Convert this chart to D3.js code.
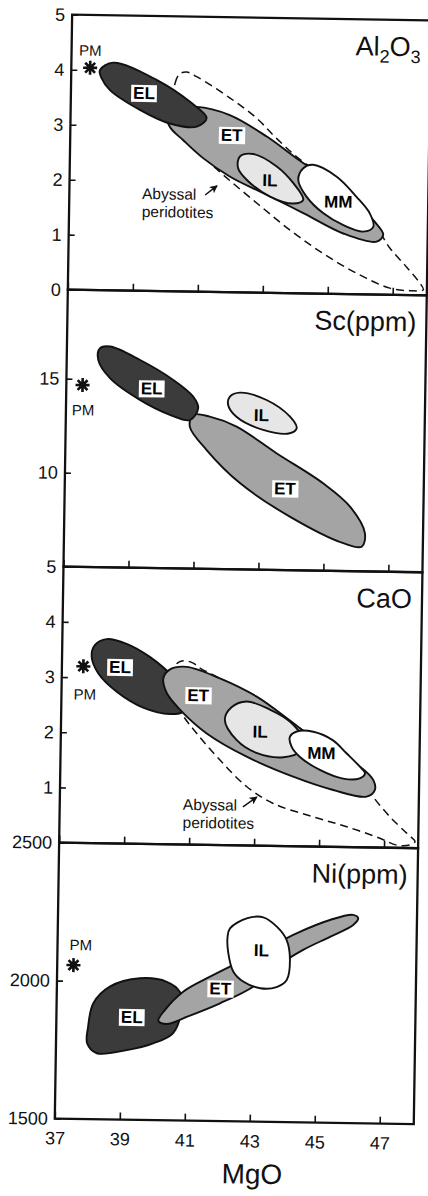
<!DOCTYPE html>
<html lang="en">
<head>
<meta charset="utf-8">
<title>MgO variation diagrams</title>
<script src="https://d3js.org/d3.v7.min.js"></script>
<style>
  body { margin: 0; background: #fff; }
  svg { display: block; font-family: "Liberation Sans", Arial, sans-serif; }
  .tick text { font-size: 18px; fill: #111; }
  .tick line { stroke: #111; stroke-width: 1.6px; }
  .tag { font-size: 17px; font-weight: bold; }
</style>
</head>
<body>
<div id="chart"></div>
<script>
// MgO axis, shared by the four panels
const mgoDomain = [37, 48.05];
const mgoTicks = [37, 39, 41, 43, 45, 47];

// Al2O3 panel (wt%)
const alTicks = [0, 1, 2, 3, 4, 5];
const alPM = [37.58, 4.04];
const alEL = [[37.88,4.00],[38.29,4.14],[39.63,3.84],[40.67,3.45],[41.19,3.16],[40.89,3.00],[40.06,3.05],[39.13,3.29],[38.20,3.64],[37.94,3.85]];
const alET = [[39.96,3.27],[40.88,3.36],[41.90,3.22],[43.05,2.84],[44.18,2.37],[45.42,1.95],[46.37,1.35],[46.68,1.09],[46.48,0.96],[45.45,1.10],[44.21,1.46],[42.97,1.81],[41.94,2.10],[41.10,2.43],[40.48,2.75],[40.06,2.99]];
const alIL = [[42.23,2.47],[42.64,2.52],[43.37,2.30],[43.89,2.00],[44.20,1.70],[43.89,1.63],[43.18,1.75],[42.45,2.05],[42.18,2.26]];
const alMM = [[44.18,2.27],[44.49,2.34],[45.22,2.13],[45.84,1.77],[46.26,1.47],[46.37,1.23],[46.06,1.14],[45.45,1.25],[44.83,1.46],[44.30,1.76],[44.04,2.06]];
const alAbyssal = [[40.16,3.36],[40.20,3.78],[40.33,3.95],[40.55,3.99],[40.86,3.91],[41.90,3.53],[42.73,3.17],[43.35,2.81],[44.18,2.39],[45.42,1.95],[46.47,1.23],[46.89,0.85],[47.41,0.51],[47.83,0.22],[47.94,0.10],[47.53,0.08],[46.91,0.12],[45.88,0.38],[44.84,0.73],[43.80,1.15],[42.77,1.63],[41.73,2.13],[41.16,2.43],[40.68,2.76],[40.27,3.06]];
const alLabels = [["EL",39.25,3.60],["ET",41.97,2.86],["IL",43.17,2.05],["MM",45.28,1.68]];
const alNote = [39.24, 1.67, 41.18, 1.76, 41.54, 1.93];

// Sc panel (ppm)
const scTicks = [5, 10, 15];
const scPM = [37.50, 14.67];
const scEL = [[38.02,16.64],[38.33,16.74],[39.26,16.05],[40.29,15.02],[40.91,14.15],[41.07,13.54],[40.82,12.90],[40.22,13.15],[39.27,13.93],[38.34,15.06],[37.97,16.02]];
const scET = [[40.92,13.18],[41.43,13.10],[42.26,12.59],[43.50,11.21],[44.95,9.65],[45.79,8.43],[46.26,7.03],[46.17,6.31],[45.60,6.48],[43.94,7.85],[42.39,9.59],[41.35,11.32],[40.82,12.55]];
const scIL = [[42.04,14.18],[42.35,14.40],[43.17,14.03],[43.90,13.16],[44.11,12.55],[43.90,12.28],[43.08,12.44],[42.25,13.11],[41.99,13.73]];
const scLabels = [["EL",39.63,14.56],["IL",43.02,13.23],["ET",43.78,9.35]];

// CaO panel (wt%)
const caTicks = [1, 2, 3, 4];
const caPM = [37.66, 3.20];
const caEL = [[38.01,3.59],[38.36,3.70],[38.98,3.62],[39.70,3.39],[40.43,3.03],[40.85,2.68],[40.76,2.41],[40.35,2.36],[39.52,2.47],[38.70,2.75],[38.12,3.08],[37.91,3.38]];
const caET = [[40.13,3.01],[40.33,3.17],[40.84,3.22],[41.87,3.02],[43.01,2.70],[44.15,2.23],[45.29,1.75],[46.22,1.46],[46.64,1.22],[46.69,1.04],[46.44,0.92],[45.41,1.03],[44.17,1.26],[42.73,1.61],[41.49,2.02],[40.66,2.44],[40.24,2.74]];
const caIL = [[42.04,2.27],[42.24,2.50],[42.70,2.61],[43.42,2.47],[44.04,2.26],[44.41,1.99],[44.37,1.72],[43.86,1.61],[43.03,1.68],[42.41,1.91]];
const caMM = [[44.05,1.98],[44.26,2.08],[44.77,2.08],[45.38,1.93],[45.80,1.70],[46.22,1.46],[46.38,1.34],[46.22,1.25],[45.71,1.24],[44.99,1.39],[44.37,1.62],[44.11,1.80]];
const caAbyssal = [[40.48,3.04],[40.53,3.27],[40.73,3.33],[41.04,3.29],[41.25,3.20],[42.18,2.93],[44.15,2.23],[46.44,1.10],[46.64,0.92],[47.17,0.56],[47.69,0.27],[47.95,0.12],[47.80,0.06],[47.39,0.05],[46.87,0.17],[45.84,0.37],[44.80,0.54],[43.57,0.77],[42.74,1.07],[41.91,1.54],[41.18,2.02],[40.71,2.38],[40.54,2.68]];
const caLabels = [["EL",38.79,3.20],["ET",41.21,2.71],["IL",43.13,2.07],["MM",45.03,1.70]];
const caNote = [40.79, 0.63, 42.64, 0.70, 43.06, 0.88];

// Ni panel (ppm)
const niTicks = [1500, 2000, 2500];
const niPM = [37.50, 2057];
const niEL = [[37.98,1834],[38.13,1920],[38.63,1981],[39.55,2013],[40.38,2002],[40.79,1966],[40.85,1912],[40.60,1816],[39.99,1778],[39.18,1752],[38.26,1739],[37.96,1774]];
const niET = [[40.14,1860],[40.34,1900],[40.89,1967],[41.71,2023],[42.52,2073],[43.54,2135],[44.35,2185],[45.37,2235],[46.08,2255],[46.24,2243],[46.09,2218],[45.38,2174],[44.56,2125],[43.75,2063],[43.04,1989],[42.03,1927],[41.01,1876],[40.40,1849]];
const niIL = [[42.30,2199],[42.81,2236],[43.32,2241],[43.74,2208],[44.05,2160],[44.16,2088],[44.07,2015],[43.76,1989],[43.26,1984],[42.73,2007],[42.42,2043],[42.26,2109],[42.23,2169]];
const niLabels = [["EL",39.32,1873],["ET",42.03,1981],["IL",43.28,2122]];

const fills = {EL: "#3b3b3b", ET: "#a4a4a4", IL: "#e6e6e6", MM: "#ffffff"};
const boxed = {EL: true, ET: true, IL: false, MM: false};

const width = 428, height = 1196;
const left = 63, right = 422;

const panels = [
  {title: "Al2O3", domain: [0, 5], top: 17, bottom: 292, ticks: alTicks, pm: alPM, pmOff: [0, -12],
   fields: [["ET", alET], ["EL", alEL], ["IL", alIL], ["MM", alMM]], abyssal: alAbyssal, labels: alLabels, note: alNote},
  {title: "Sc(ppm)", domain: [5, 19.73], top: 292, bottom: 569, ticks: scTicks, pm: scPM, pmOff: [1, 25],
   fields: [["ET", scET], ["EL", scEL], ["IL", scIL]], labels: scLabels},
  {title: "CaO", domain: [0, 5], top: 569, bottom: 845, ticks: caTicks, pm: caPM, pmOff: [2, 28],
   fields: [["EL", caEL], ["ET", caET], ["IL", caIL], ["MM", caMM]], abyssal: caAbyssal, labels: caLabels, note: caNote},
  {title: "Ni(ppm)", domain: [1500, 2500], top: 845, bottom: 1121, ticks: niTicks, pm: niPM, pmOff: [7, -15],
   fields: [["EL", niEL], ["ET", niET], ["IL", niIL, "#ffffff"]], labels: niLabels}
];

const svg = d3.select("#chart").append("svg")
  .attr("width", width)
  .attr("height", height);

svg.append("defs").append("marker")
  .attr("id", "arrow")
  .attr("markerUnits", "userSpaceOnUse")
  .attr("markerWidth", 9).attr("markerHeight", 8)
  .attr("refX", 7).attr("refY", 4)
  .attr("orient", "auto")
  .append("path").attr("d", "M0,0 L8,4 L0,8 L2,4 z").attr("fill", "#111");

// the scanned figure sits slightly tilted on the page
const root = svg.append("g").attr("transform", "rotate(0.9, 214, 598)");

const x = d3.scaleLinear().domain(mgoDomain).range([left, right]);

panels.forEach((p, i) => {
  const y = d3.scaleLinear().domain(p.domain).range([p.bottom, p.top]);
  const g = root.append("g");
  const line = d3.line().x(d => x(d[0])).y(d => y(d[1])).curve(d3.curveCatmullRomClosed.alpha(0.5));

  if (p.abyssal) {
    g.append("path").attr("d", line(p.abyssal))
      .attr("fill", "none").attr("stroke", "#111")
      .attr("stroke-width", 1.5).attr("stroke-dasharray", "8,5");
  }

  p.fields.forEach(([name, pts, fill]) => {
    g.append("path").attr("d", line(pts))
      .attr("fill", fill || fills[name]).attr("stroke", "#111").attr("stroke-width", 1.9);
  });

  p.labels.forEach(([name, mx, v]) => {
    const t = g.append("text").attr("class", "tag")
      .attr("x", x(mx)).attr("y", y(v))
      .attr("text-anchor", "middle").attr("dy", "0.36em")
      .text(name);
    if (boxed[name]) {
      const b = t.node().getBBox();
      g.insert("rect", () => t.node())
        .attr("x", b.x - 2).attr("y", b.y + 1)
        .attr("width", b.width + 4).attr("height", b.height - 2)
        .attr("fill", "#fff");
    }
  });

  if (p.note) {
    const [nx, ny, ax0, ay0, ax1, ay1] = p.note;
    const t = g.append("text").attr("x", x(nx)).attr("y", y(ny))
      .attr("font-size", 15.5).attr("fill", "#111");
    t.append("tspan").text("Abyssal");
    t.append("tspan").attr("x", x(nx)).attr("dy", 18).text("peridotites");
    g.append("line")
      .attr("x1", x(ax0)).attr("y1", y(ay0)).attr("x2", x(ax1)).attr("y2", y(ay1))
      .attr("stroke", "#111").attr("stroke-width", 1.5).attr("marker-end", "url(#arrow)");
  }

  // primitive mantle star
  const px = x(p.pm[0]), py = y(p.pm[1]);
  const star = g.append("g").attr("transform", `translate(${px},${py})`);
  [0, 45, 90, 135].forEach(a => {
    star.append("line").attr("x1", -7).attr("x2", 7)
      .attr("transform", `rotate(${a})`)
      .attr("stroke", "#111").attr("stroke-width", 2.6);
  });
  star.append("circle").attr("r", 3.5).attr("fill", "#111");
  g.append("text").attr("x", px + p.pmOff[0]).attr("y", py + p.pmOff[1])
    .attr("dy", p.pmOff[1] < 0 ? 0 : "0.35em")
    .attr("text-anchor", "middle").attr("font-size", 15).attr("fill", "#111")
    .text("PM");

  // axes
  const ya = g.append("g").attr("transform", `translate(${left},0)`)
    .call(d3.axisLeft(y).tickValues(p.ticks).tickSize(-6).tickSizeOuter(0).tickPadding(7).tickFormat(d3.format("d")));
  ya.select(".domain").remove();

  const last = i === panels.length - 1;
  const xa = g.append("g").attr("transform", `translate(0,${p.bottom})`)
    .call(d3.axisBottom(x).tickValues(mgoTicks).tickSize(-7).tickSizeOuter(0).tickPadding(13)
      .tickFormat(last ? d3.format("d") : () => ""));
  xa.select(".domain").remove();

  g.append("rect")
    .attr("x", left).attr("y", p.top)
    .attr("width", right - left).attr("height", p.bottom - p.top)
    .attr("fill", "none").attr("stroke", "#111").attr("stroke-width", 2.3);

  // panel title
  const tt = g.append("text").attr("x", right - 10).attr("y", p.top + 36)
    .attr("text-anchor", "end").attr("font-size", 27).attr("fill", "#111");
  if (p.title === "Al2O3") {
    tt.append("tspan").text("Al");
    tt.append("tspan").attr("dy", 7).attr("font-size", 18).text("2");
    tt.append("tspan").attr("dy", -7).text("O");
    tt.append("tspan").attr("dy", 7).attr("font-size", 18).text("3");
  } else {
    tt.text(p.title);
  }
});

root.append("text").attr("x", 261).attr("y", 1183)
  .attr("text-anchor", "middle").attr("font-size", 28).attr("fill", "#111")
  .text("MgO");
</script>
</body>
</html>
